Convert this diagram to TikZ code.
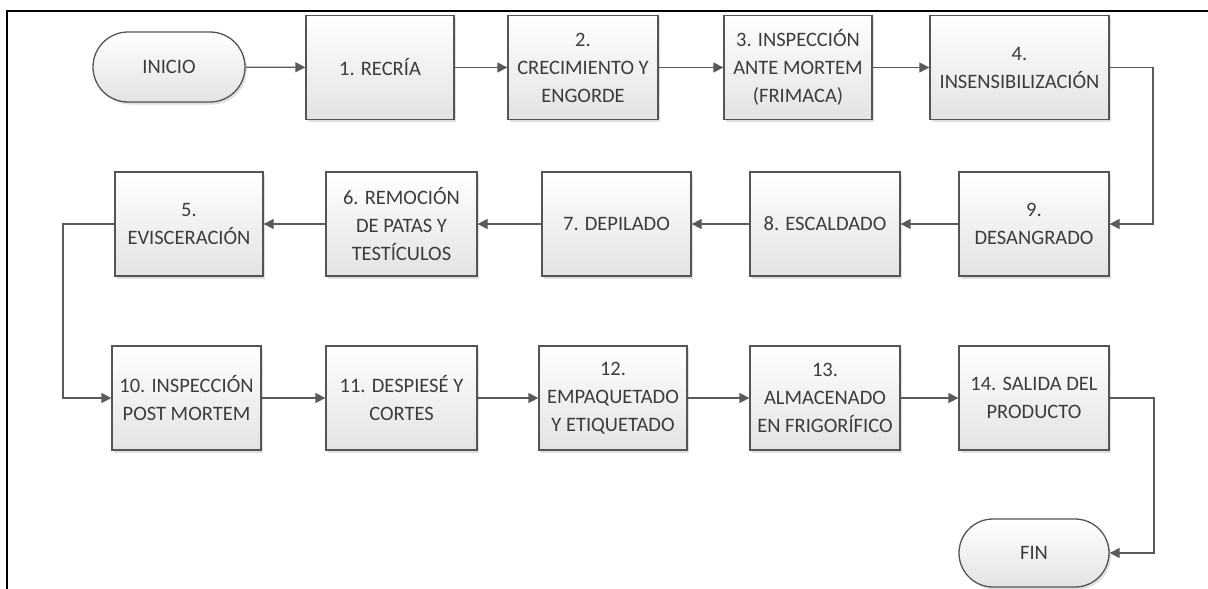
\documentclass[tikz,border=0pt]{standalone}
\usepackage{fontspec}
\setmainfont{Carlito}
\usetikzlibrary{arrows.meta,shapes.misc,shadows}
\definecolor{txt}{HTML}{3C3C3C}
\definecolor{edge}{HTML}{555555}
\definecolor{ln}{HTML}{5A5A5A}
\begin{document}
\begin{tikzpicture}[x=1pt,y=-1pt,
  stepbox/.style={draw=edge, line width=1.3pt, top color=white, bottom color=gray!22,
    drop shadow={shadow xshift=2pt,shadow yshift=-2.5pt,opacity=0.25,fill=gray},
    minimum height=104pt, align=center, text=txt,
    font=\fontsize{20.5}{28}\selectfont, inner sep=0pt},
  term/.style={stepbox, rounded rectangle, minimum height=70pt},
  arr/.style={draw=ln, line width=1.3pt, -{Triangle[length=10pt,width=10pt]}}]
\useasboundingbox (0,0) rectangle (1208,589);
% frame
\draw[line width=1.8pt] (7,589) -- (7,11) -- (1208,11);
% row 1
\node[term, minimum width=152pt] (ini) at (169,67) {INICIO};
\node[stepbox, minimum width=148pt] (b1) at (380,67.5) {1. RECRÍA};
\node[stepbox, minimum width=150pt] (b2) at (583,67.5) {2.\\CRECIMIENTO Y\\ENGORDE};
\node[stepbox, minimum width=148pt] (b3) at (798,67.5) {3. INSPECCIÓN\\ANTE MORTEM\\(FRIMACA)};
\node[stepbox, minimum width=179pt] (b4) at (1019.5,67.5) {4.\\INSENSIBILIZACIÓN};
% row 2
\node[stepbox, minimum width=148pt] (b5) at (189,224) {5.\\EVISCERACIÓN};
\node[stepbox, minimum width=151pt] (b6) at (401.5,224) {6. REMOCIÓN\\DE PATAS Y\\TESTÍCULOS};
\node[stepbox, minimum width=149pt] (b7) at (616.5,224) {7. DEPILADO};
\node[stepbox, minimum width=150pt] (b8) at (825,224) {8. ESCALDADO};
\node[stepbox, minimum width=150pt] (b9) at (1034,224) {9.\\DESANGRADO};
% row 3
\node[stepbox, minimum width=149pt] (b10) at (186.5,398) {10. INSPECCIÓN\\POST MORTEM};
\node[stepbox, minimum width=151pt] (b11) at (401.5,398) {11. DESPIESÉ Y\\CORTES};
\node[stepbox, minimum width=148pt] (b12) at (613,398) {12.\\EMPAQUETADO\\Y ETIQUETADO};
\node[stepbox, minimum width=150pt] (b13) at (825,398) {13.\\ALMACENADO\\EN FRIGORÍFICO};
\node[stepbox, minimum width=150pt] (b14) at (1034,398) {14. SALIDA DEL\\PRODUCTO};
\node[term, minimum width=150pt, minimum height=68pt] (fin) at (1034,553) {FIN};
% bends
\coordinate (r1) at (1153,67.5);
\coordinate (l1) at (63,224);
\coordinate (r2) at (1154,398);
% connectors
\draw[arr] (ini) -- (b1);
\draw[arr] (b1) -- (b2);
\draw[arr] (b2) -- (b3);
\draw[arr] (b3) -- (b4);
\draw[arr] (b4.east) -- (r1) |- (b9.east);
\draw[arr] (b9) -- (b8);
\draw[arr] (b8) -- (b7);
\draw[arr] (b7) -- (b6);
\draw[arr] (b6) -- (b5);
\draw[arr] (b5.west) -- (l1) |- (b10.west);
\draw[arr] (b10) -- (b11);
\draw[arr] (b11) -- (b12);
\draw[arr] (b12) -- (b13);
\draw[arr] (b13) -- (b14);
\draw[arr] (b14.east) -- (r2) |- (fin.east);
\end{tikzpicture}
\end{document}
